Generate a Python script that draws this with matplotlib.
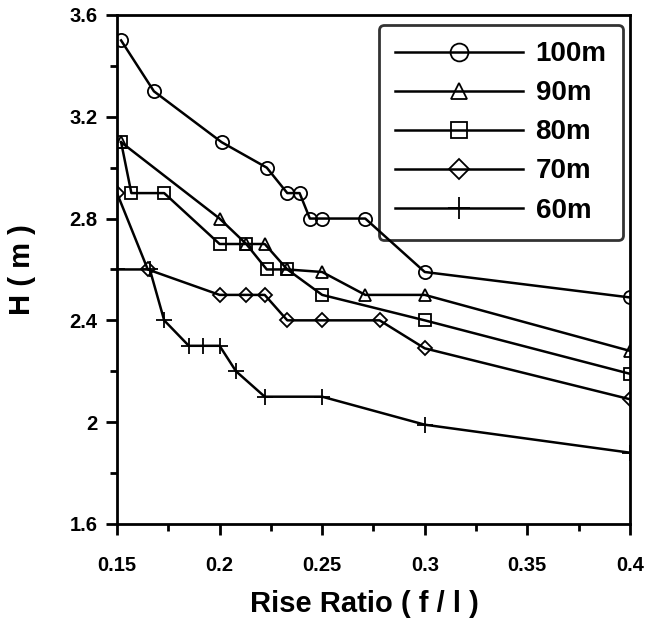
import matplotlib.pyplot as plt
from matplotlib.ticker import MultipleLocator

plt.rcParams['font.family'] = ['Liberation Sans', 'DejaVu Sans']
plt.rcParams['font.weight'] = 'bold'

# rise ratio (f/l) and H (m) for each span
x_100 = [0.152, 0.168, 0.201, 0.223, 0.233, 0.239, 0.244, 0.25, 0.271, 0.3, 0.4]
h_100 = [3.5, 3.3, 3.1, 3.0, 2.9, 2.9, 2.8, 2.8, 2.8, 2.59, 2.49]

x_90 = [0.152, 0.2, 0.213, 0.222, 0.233, 0.25, 0.271, 0.3, 0.4]
h_90 = [3.1, 2.8, 2.7, 2.7, 2.6, 2.59, 2.5, 2.5, 2.28]

x_80 = [0.152, 0.157, 0.173, 0.2, 0.213, 0.223, 0.233, 0.25, 0.3, 0.4]
h_80 = [3.1, 2.9, 2.9, 2.7, 2.7, 2.6, 2.6, 2.5, 2.4, 2.19]

x_70 = [0.15, 0.165, 0.2, 0.213, 0.222, 0.233, 0.25, 0.278, 0.3, 0.4]
h_70 = [2.9, 2.6, 2.5, 2.5, 2.5, 2.4, 2.4, 2.4, 2.29, 2.09]

x_60 = [0.15, 0.166, 0.173, 0.185, 0.192, 0.2, 0.208, 0.222, 0.25, 0.3, 0.4]
h_60 = [2.6, 2.6, 2.4, 2.3, 2.3, 2.3, 2.2, 2.1, 2.1, 1.99, 1.88]

labels = ['100m', '90m', '80m', '70m', '60m']
xticks = [0.15, 0.2, 0.25, 0.3, 0.35, 0.4]
yticks = [1.6, 2.0, 2.4, 2.8, 3.2, 3.6]
ytick_labels = ['1.6', '2', '2.4', '2.8', '3.2', '3.6']

fig = plt.figure(figsize=(6.61, 6.23), dpi=100)
ax = fig.add_axes([0.177, 0.159, 0.776, 0.817])

series = [(x_100, h_100, 'o', 9.5), (x_90, h_90, '^', 9),
          (x_80, h_80, 's', 9), (x_70, h_70, 'D', 7.5),
          (x_60, h_60, '+', 12)]
for (xs, hs, m, ms), lab in zip(series, labels):
    ax.plot(xs, hs, color='black', lw=1.8, marker=m, ms=ms,
            mfc='none', mec='black', mew=1.3, label=lab)

ax.set_xlim(0.15, 0.4)
ax.set_ylim(1.6, 3.6)
ax.set_xticks(xticks)
ax.set_xticklabels([f'{t:g}' for t in xticks])
ax.set_yticks(yticks)
ax.set_yticklabels(ytick_labels)
ax.xaxis.set_minor_locator(MultipleLocator(0.025))
ax.yaxis.set_minor_locator(MultipleLocator(0.2))
ax.tick_params(which='major', direction='out', length=8, width=2,
               labelsize=14.5)
ax.tick_params(which='minor', direction='out', length=5, width=2)
ax.tick_params(axis='x', which='major', pad=15)
ax.tick_params(axis='y', which='major', pad=6)
for sp in ax.spines.values():
    sp.set_linewidth(2)

ax.set_xlabel('Rise Ratio ( f / l )', fontsize=21, fontweight='bold')
ax.xaxis.set_label_coords(0.482, -0.13)
ax.set_ylabel('H ( m )', fontsize=21, fontweight='bold', labelpad=24)

leg = ax.legend(loc='upper right', bbox_to_anchor=(0.987, 0.981),
                borderaxespad=0, fancybox=True, handlelength=4.6,
                prop={'size': 20, 'weight': 'bold'}, markerscale=1.35,
                labelspacing=0.47, handletextpad=0.45, borderpad=0.6,
                facecolor='none')
leg.get_frame().set_edgecolor('black')
leg.get_frame().set_linewidth(2)

plt.savefig('out.png', dpi=100)
